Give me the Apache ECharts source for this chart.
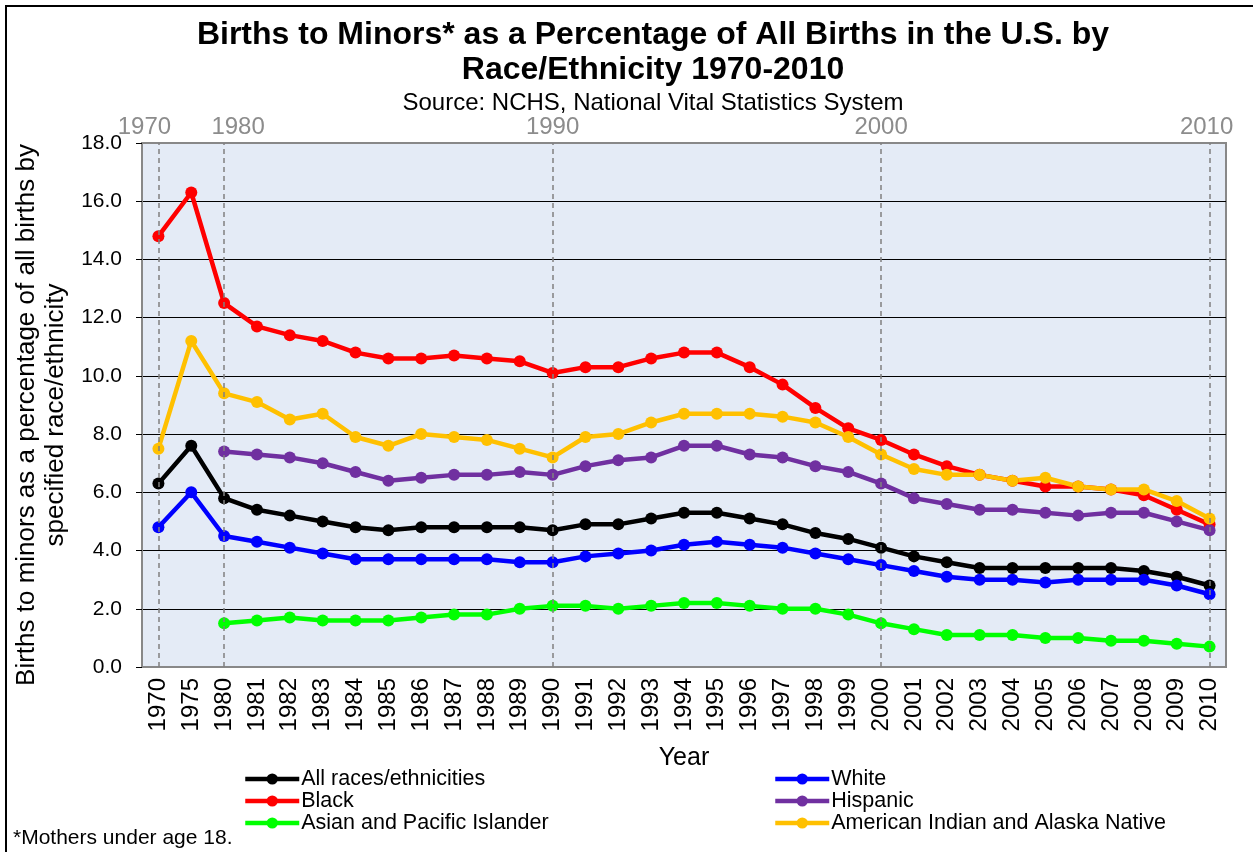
<html>
<head>
<meta http-equiv="Content-Type" content="text/html; charset=utf-8" />
<title>Births to Minors</title>
<script src="https://cdn.jsdelivr.net/npm/echarts@6/dist/echarts.min.js"></script>
<style>
  html, body { margin: 0; padding: 0; background: #fff; }
</style>
</head>
<body>
<div id="main" style="width:1253px;height:852px"></div>
<script type="text/javascript">
    var years = ['1970', '1975', '1980', '1981', '1982', '1983', '1984', '1985', '1986', '1987', '1988',
        '1989', '1990', '1991', '1992', '1993', '1994', '1995', '1996', '1997', '1998', '1999', '2000',
        '2001', '2002', '2003', '2004', '2005', '2006', '2007', '2008', '2009', '2010'];
    var decades = ['1970', '1980', '1990', '2000', '2010'];

    var allRaces = [6.3, 7.6, 5.8, 5.4, 5.2, 5.0, 4.8, 4.7, 4.8, 4.8, 4.8, 4.8, 4.7,
        4.9, 4.9, 5.1, 5.3, 5.3, 5.1, 4.9, 4.6, 4.4, 4.1, 3.8, 3.6, 3.4, 3.4, 3.4, 3.4, 3.4, 3.3, 3.1, 2.8];
    var white = [4.8, 6.0, 4.5, 4.3, 4.1, 3.9, 3.7, 3.7, 3.7, 3.7, 3.7, 3.6, 3.6,
        3.8, 3.9, 4.0, 4.2, 4.3, 4.2, 4.1, 3.9, 3.7, 3.5, 3.3, 3.1, 3.0, 3.0, 2.9, 3.0, 3.0, 3.0, 2.8, 2.5];
    var black = [14.8, 16.3, 12.5, 11.7, 11.4, 11.2, 10.8, 10.6, 10.6, 10.7, 10.6, 10.5, 10.1,
        10.3, 10.3, 10.6, 10.8, 10.8, 10.3, 9.7, 8.9, 8.2, 7.8, 7.3, 6.9, 6.6, 6.4, 6.2, 6.2, 6.1, 5.9, 5.4, 4.9];
    var hispanic = [null, null, 7.4, 7.3, 7.2, 7.0, 6.7, 6.4, 6.5, 6.6, 6.6, 6.7, 6.6,
        6.9, 7.1, 7.2, 7.6, 7.6, 7.3, 7.2, 6.9, 6.7, 6.3, 5.8, 5.6, 5.4, 5.4, 5.3, 5.2, 5.3, 5.3, 5.0, 4.7];
    var asian = [null, null, 1.5, 1.6, 1.7, 1.6, 1.6, 1.6, 1.7, 1.8, 1.8, 2.0, 2.1,
        2.1, 2.0, 2.1, 2.2, 2.2, 2.1, 2.0, 2.0, 1.8, 1.5, 1.3, 1.1, 1.1, 1.1, 1.0, 1.0, 0.9, 0.9, 0.8, 0.7];
    var amIndian = [7.5, 11.2, 9.4, 9.1, 8.5, 8.7, 7.9, 7.6, 8.0, 7.9, 7.8, 7.5, 7.2,
        7.9, 8.0, 8.4, 8.7, 8.7, 8.7, 8.6, 8.4, 7.9, 7.3, 6.8, 6.6, 6.6, 6.4, 6.5, 6.2, 6.1, 6.1, 5.7, 5.1];

    var font = "'Liberation Sans', Arial, sans-serif";

    function makeLine(name, color, values) {
        return {
            name: name,
            type: 'line',
            data: values,
            symbol: 'circle',
            symbolSize: 12,
            lineStyle: { width: 4.5, color: color },
            itemStyle: { color: color },
            emphasis: { disabled: true },
            z: 3
        };
    }

    var seriesList = [
        {
            name: 'dividers',
            type: 'line',
            data: [],
            z: 1,
            markLine: {
                silent: true,
                symbol: ['none', 'none'],
                label: { show: false },
                lineStyle: { type: [5, 4], color: '#808080', width: 1.5 },
                data: decades.map(function (d) { return { xAxis: d }; })
            }
        },
        makeLine('All races/ethnicities', '#000000', allRaces),
        makeLine('White', '#0000FF', white),
        makeLine('Black', '#FF0000', black),
        makeLine('Hispanic', '#7030A0', hispanic),
        makeLine('Asian and Pacific Islander', '#00FF00', asian),
        makeLine('American Indian and Alaska Native', '#FFC000', amIndian)
    ];

    var legendBase = {
        orient: 'vertical',
        top: 768,
        padding: 0,
        itemWidth: 54,
        itemHeight: 14,
        itemGap: 0,
        lineStyle: { width: 4.5 },
        textStyle: { fontFamily: font, fontSize: 21.5, color: '#000', lineHeight: 21, padding: [0, 0, 0, -3] }
    };

    var option = {
        animation: false,
        backgroundColor: '#fff',
        textStyle: { fontFamily: font },
        title: [
            {
                text: 'Births to Minors* as a Percentage of All Births in the U.S. by\nRace/Ethnicity 1970-2010',
                left: 648,
                top: 13,
                textAlign: 'center',
                textStyle: { fontFamily: font, fontSize: 32, fontWeight: 'bold', color: '#000', lineHeight: 35 }
            },
            {
                text: 'Source: NCHS, National Vital Statistics System',
                left: 648,
                top: 86,
                textAlign: 'center',
                textStyle: { fontFamily: font, fontSize: 24, fontWeight: 'normal', color: '#000' }
            },
            {
                text: '*Mothers under age 18.',
                left: 8,
                top: 823,
                textStyle: { fontFamily: font, fontSize: 21, fontWeight: 'normal', color: '#000' }
            }
        ],
        legend: [
            Object.assign({}, legendBase, {
                left: 243,
                data: ['All races/ethnicities', 'Black', 'Asian and Pacific Islander']
            }),
            Object.assign({}, legendBase, {
                left: 773,
                data: ['White', 'Hispanic', 'American Indian and Alaska Native']
            })
        ],
        grid: {
            left: 142,
            right: 27,
            top: 143,
            bottom: 185,
            show: true,
            backgroundColor: '#E4EBF6',
            borderColor: '#888',
            borderWidth: 2
        },
        xAxis: [
            {
                type: 'category',
                data: years,
                name: 'Year',
                nameLocation: 'middle',
                nameGap: 79,
                nameTextStyle: { fontFamily: font, fontSize: 25, color: '#000' },
                axisLine: { lineStyle: { color: '#888', width: 2 } },
                axisTick: { interval: 0, length: 6, lineStyle: { color: '#888', width: 2 } },
                axisLabel: { interval: 0, rotate: 90, margin: 11, fontFamily: font, fontSize: 24, color: '#000' }
            },
            {
                type: 'category',
                data: years,
                position: 'top',
                axisLine: { show: false },
                axisTick: { show: false },
                axisLabel: {
                    interval: 0,
                    margin: 4,
                    color: '#8c8c8c',
                    fontFamily: font,
                    fontSize: 24,
                    formatter: function (v) {
                        if (v === '1970') return '{a|' + v + '}';
                        if (v === '1980') return '{b|' + v + '}';
                        if (v === '2010') return '{d|' + v + '}';
                        if (decades.indexOf(v) >= 0) return '{c|' + v + '}';
                        return '';
                    },
                    rich: {
                        a: { fontFamily: font, fontSize: 24, color: '#8c8c8c', padding: [0, 28, 0, 0] },
                        b: { fontFamily: font, fontSize: 24, color: '#8c8c8c', padding: [0, 0, 0, 28] },
                        c: { fontFamily: font, fontSize: 24, color: '#8c8c8c' },
                        d: { fontFamily: font, fontSize: 24, color: '#8c8c8c', padding: [0, 6, 0, 0] }
                    }
                }
            }
        ],
        yAxis: {
            type: 'value',
            min: 0,
            max: 18,
            interval: 2,
            name: 'Births to minors as a percentage of all births by\nspecified race/ethnicity',
            nameLocation: 'middle',
            nameGap: 66,
            nameTextStyle: { fontFamily: font, fontSize: 26, color: '#000', lineHeight: 29, padding: [0, 20, 0, 0] },
            axisLine: { show: true, lineStyle: { color: '#888', width: 2 } },
            axisTick: { show: true, length: 6, lineStyle: { color: '#000', width: 1 } },
            axisLabel: {
                margin: 20,
                fontFamily: font,
                fontSize: 21,
                color: '#000',
                formatter: function (v) { return v.toFixed(1); }
            },
            splitLine: {
                lineStyle: {
                    color: ['#000', '#000', '#000', '#000', '#000', '#000', '#000', '#000', '#000', '#888'],
                    width: 1
                }
            }
        },
        graphic: [
            {
                type: 'rect',
                silent: true,
                shape: { x: 6, y: 6, width: 1300, height: 900 },
                style: { fill: null, stroke: '#000', lineWidth: 2 }
            }
        ],
        series: seriesList
    };

    var myChart = echarts.init(document.getElementById('main'));
    myChart.setOption(option);
</script>
</body>
</html>
